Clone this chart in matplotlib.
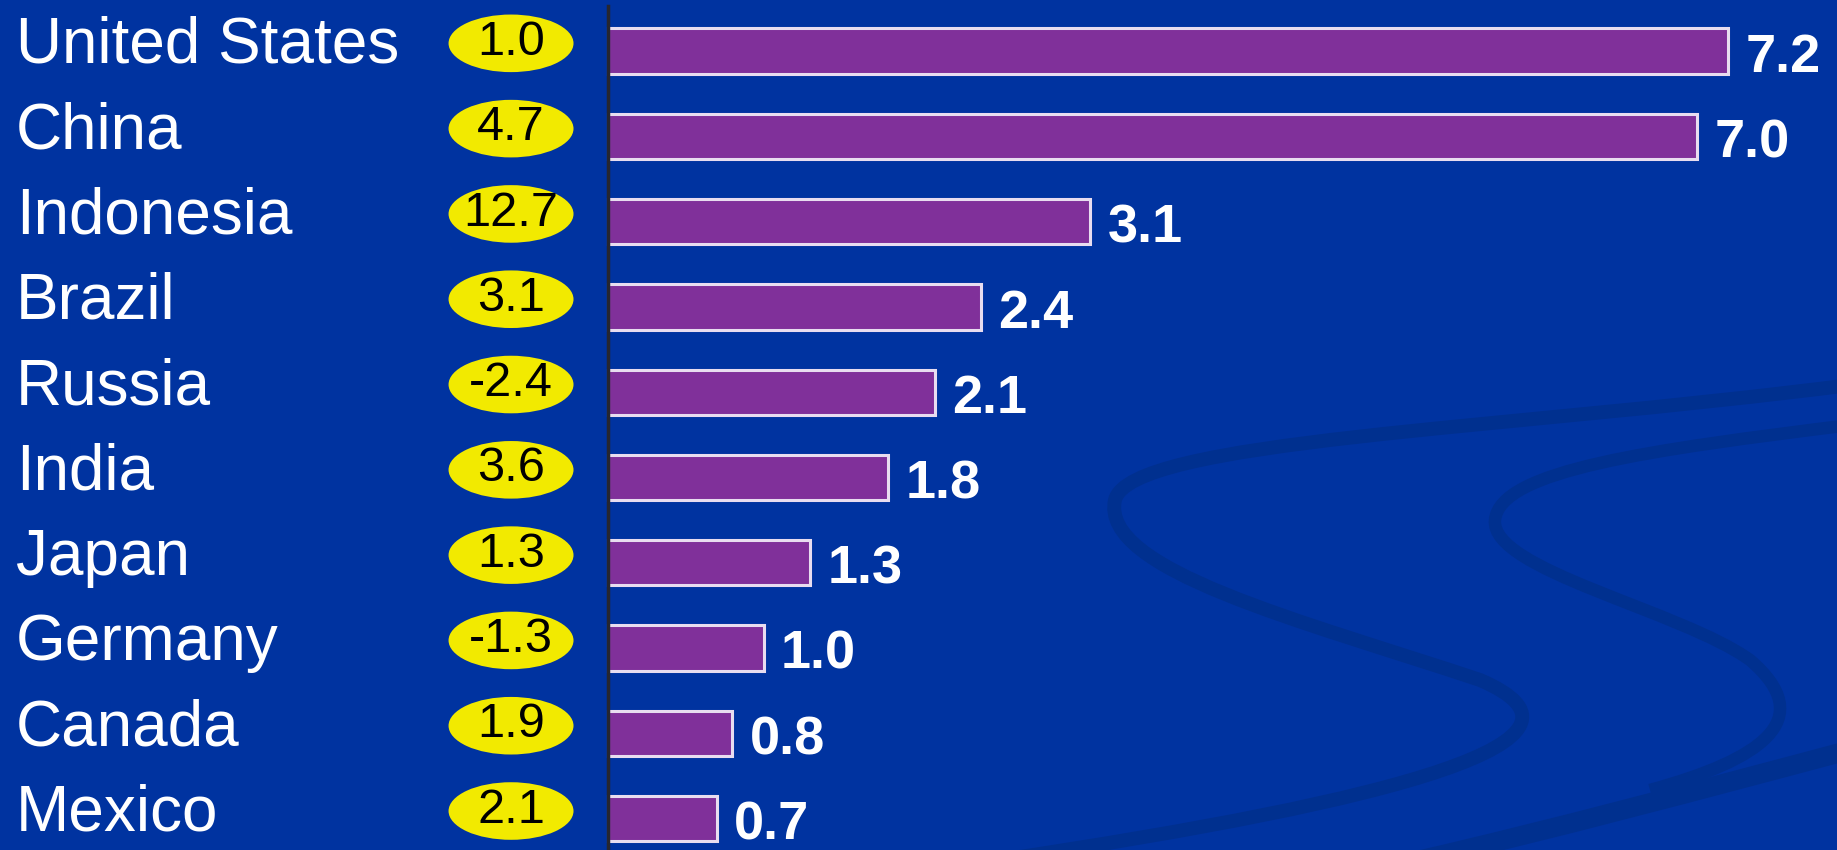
import matplotlib.pyplot as plt
from matplotlib.patches import Ellipse, PathPatch
from matplotlib.path import Path

# Data
countries = ['United States', 'China', 'Indonesia', 'Brazil', 'Russia',
             'India', 'Japan', 'Germany', 'Canada', 'Mexico']
bar_values = [7.2, 7.0, 3.1, 2.4, 2.1, 1.8, 1.3, 1.0, 0.8, 0.7]
bubble_values = ['1.0', '4.7', '12.7', '3.1', '-2.4', '3.6', '1.3', '-1.3', '1.9', '2.1']

bg = '#0033a0'
W, H = 1837, 850
fig = plt.figure(figsize=(18.37, 8.5), dpi=100, facecolor=bg)


def swoosh(pts, lw):
    # decorative background curve, given in slide pixels
    verts = [(x / W, 1 - y / H) for x, y in pts]
    codes = [Path.MOVETO] + [Path.CURVE4] * (len(verts) - 1)
    fig.patches.append(PathPatch(Path(verts, codes), facecolor='none',
                                 edgecolor='#00308f', linewidth=lw,
                                 transform=fig.transFigure, zorder=0))


swoosh([(1850, 385), (1500, 430), (1130, 440), (1115, 500),
        (1100, 570), (1300, 620), (1480, 680),
        (1620, 740), (1400, 800), (1000, 860)], 10)
swoosh([(1850, 425), (1650, 450), (1500, 470), (1495, 520),
        (1490, 570), (1680, 610), (1750, 660),
        (1820, 720), (1760, 760), (1650, 790)], 9)
swoosh([(1850, 750), (1700, 790), (1550, 830), (1420, 860)], 14)

ax = fig.add_axes([0, 0, 1, 1])
ax.set_facecolor('none')

# axis scales chosen so the bars sit where they do on the slide
ax.set_xlim(-3.907, 7.898)
ax.set_ylim(9.367, -0.598)

ypos = list(range(len(countries)))
ax.barh(ypos, bar_values, height=0.53, color='#80309a',
        edgecolor='#e8ddf0', linewidth=2.2, zorder=3)

# vertical axis line
ax.axvline(0, ymin=0, ymax=0.993, color='#262630', linewidth=2.5, zorder=4)

for i, (name, val, bub) in enumerate(zip(countries, bar_values, bubble_values)):
    ax.text(-3.805, i + 0.14, name, color='white', fontsize=46,
            family=['Liberation Sans', 'DejaVu Sans'], va='baseline', ha='left')
    ax.add_patch(Ellipse((-0.623, i - 0.09), 0.803, 0.675,
                         facecolor='#f2ea00', edgecolor='none', zorder=3))
    ax.text(-0.623, i - 0.1, bub, color='black', fontsize=35,
            family=['Liberation Sans', 'DejaVu Sans'], ha='center', va='center', zorder=4)
    ax.text(val + 0.11, i + 0.08, f'{val:.1f}', color='white', fontsize=39,
            fontweight='bold', family=['Liberation Sans', 'DejaVu Sans'],
            ha='left', va='center')

ax.axis('off')
fig.savefig('out.png', dpi=100, facecolor=bg)
